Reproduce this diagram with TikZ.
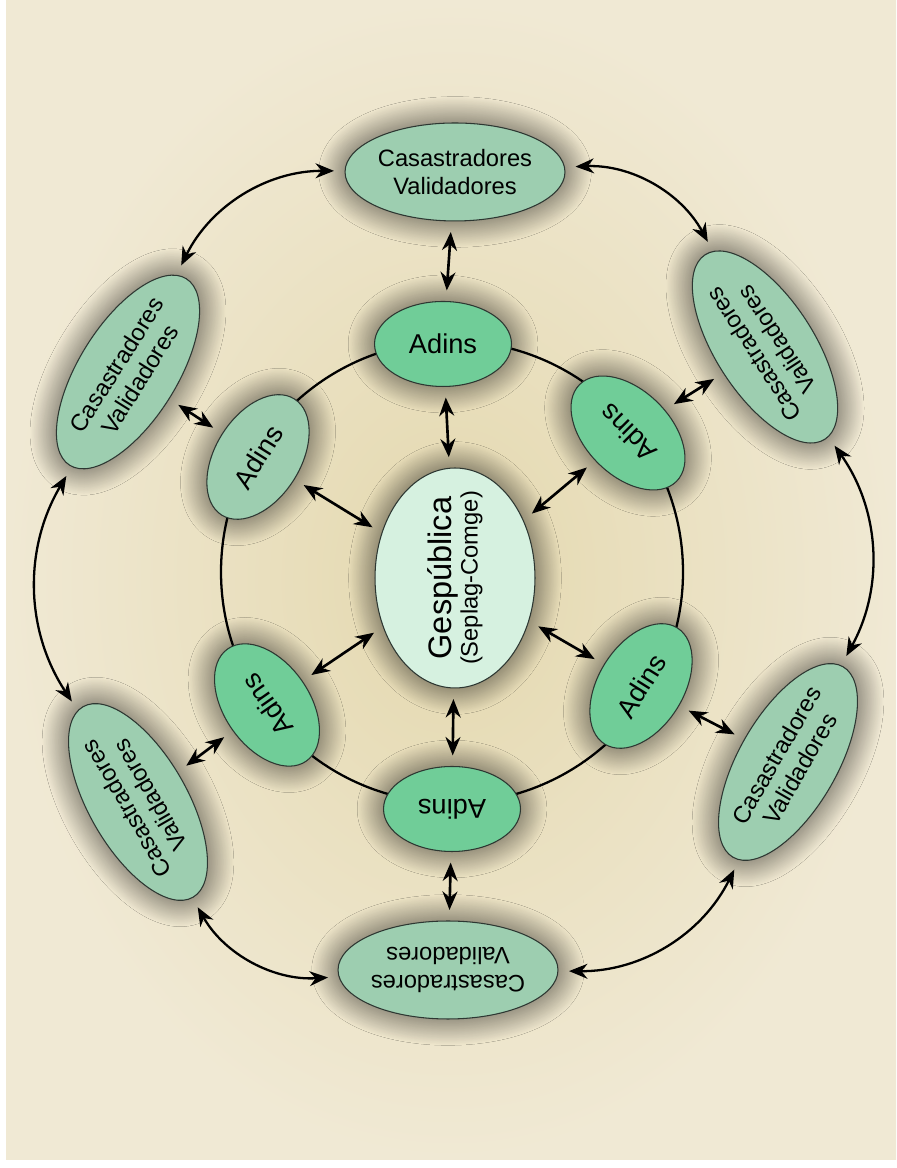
\documentclass[tikz,border=0pt]{standalone}
\usepackage{fontspec}
\setmainfont{Liberation Sans}
\usetikzlibrary{shapes.geometric,arrows.meta,shadows.blur}

\definecolor{bginner}{RGB}{228,216,174}
\definecolor{bgouter}{RGB}{240,233,212}
\definecolor{sage}{RGB}{157,206,176}
\definecolor{mint}{RGB}{112,205,152}
\definecolor{pale}{RGB}{214,241,224}
\definecolor{rim}{RGB}{45,55,50}

\tikzset{
  bubble/.style={ellipse, draw=rim, line width=0.6pt, inner sep=0pt, align=center,
    blur shadow={shadow xshift=0pt, shadow yshift=0pt, shadow blur radius=15pt,
      shadow blur steps=40, shadow opacity=70, shadow scale=1.0}},
  casa/.style={bubble, fill=sage, minimum width=4.4cm, minimum height=1.96cm,
    font=\fontsize{13.5}{15.5}\selectfont},
  adins/.style={bubble, fill=mint, minimum width=2.74cm, minimum height=1.7cm,
    font=\fontsize{15.5}{17}\selectfont},
  hub/.style={bubble, fill=pale, minimum width=4.4cm, minimum height=3.2cm,
    inner xsep=-6pt, font=\fontsize{18.5}{15}\selectfont},
  link/.style={<->, >={Stealth[length=10.5pt,width=8.5pt]}, line width=1.5pt,
    shorten <=6pt, shorten >=6pt},
  ringlink/.style={link, line width=1.3pt}
}

\begin{document}
\begin{tikzpicture}[x=0.02cm, y=0.02cm]
  \useasboundingbox (0,0) rectangle (896,1168);
  \fill[white] (0,0) rectangle (896,1168);
  \shade[inner color=bginner, outer color=bgouter] (6,8) rectangle (896,1168);

  % inner ring
  \coordinate (ringc) at (452,596);
  \draw[line width=1.3pt] (ringc) circle[radius=231];

  % center
  \node[hub, rotate=90] (ges) at (455,590)
    {Gespública\\{\fontsize{13.5}{15}\selectfont (Seplag-Comge)}};

  % adins ring
  \node[adins] (aT) at (443,824) {Adins};
  \node[adins, fill=sage, rotate=58] (aUL) at (258,711) {Adins};
  \node[adins, rotate=125] (aLL) at (267,463) {Adins};
  \node[adins, rotate=180] (aB) at (452,359) {Adins};
  \node[adins, rotate=58] (aLR) at (641,482) {Adins};
  \node[adins, rotate=135] (aUR) at (628,735) {Adins};

  % outer ring
  \node[casa] (cT) at (455,996) {Casastradores\\Validadores};
  \node[casa, rotate=58] (cUL) at (128,796) {Casastradores\\Validadores};
  \node[casa, rotate=120] (cLL) at (138,366) {Casastradores\\Validadores};
  \node[casa, rotate=180] (cB) at (448,198) {Casastradores\\Validadores};
  \node[casa, rotate=60] (cLR) at (788,406) {Casastradores\\Validadores};
  \node[casa, rotate=123] (cUR) at (765,821) {Casastradores\\Validadores};

  % spokes
  \foreach \p in {T,UL,LL,B,LR,UR} {
    \draw[link] (c\p) -- (a\p);
    \draw[link] (a\p) -- (ges);
  }

  % outer arcs
  \draw[ringlink] (cT) to[bend right=32] (cUL);
  \draw[ringlink] (cUL) to[bend right=32] (cLL);
  \draw[ringlink] (cLL) to[bend right=32] (cB);
  \draw[ringlink] (cB) to[bend right=32] (cLR);
  \draw[ringlink] (cLR) to[bend right=32] (cUR);
  \draw[ringlink] (cUR) to[bend right=32] (cT);
\end{tikzpicture}
\end{document}
